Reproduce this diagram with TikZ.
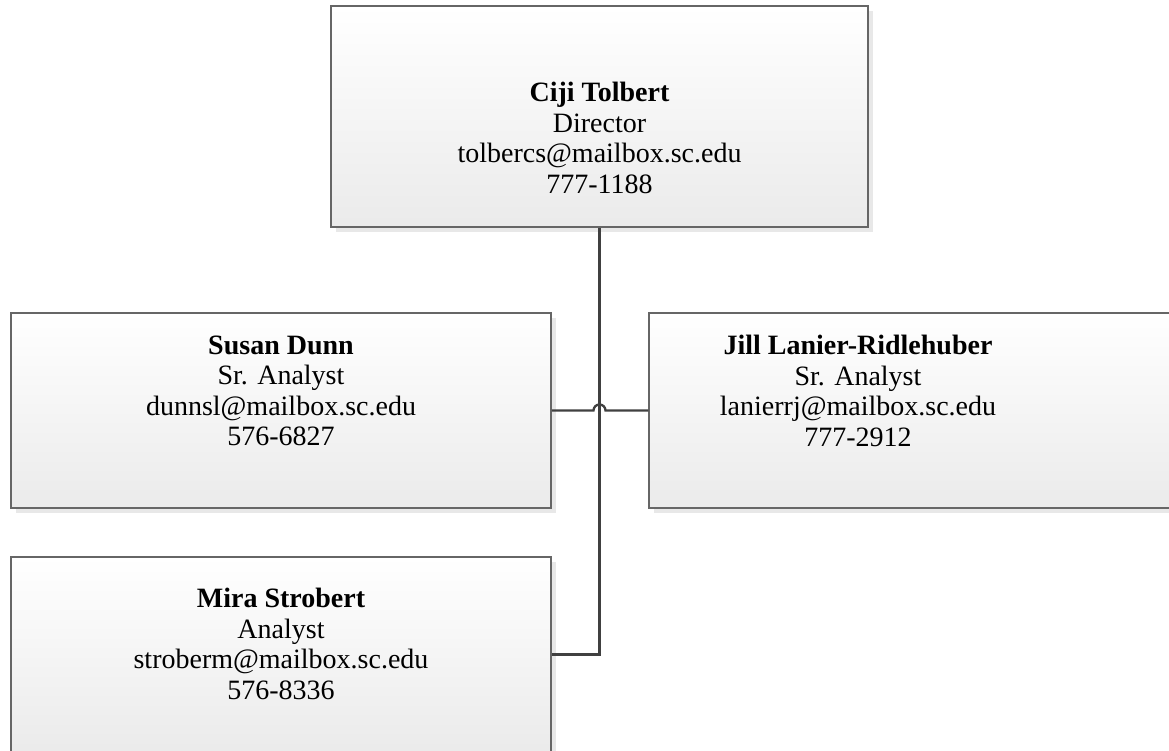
\documentclass[tikz,border=0pt]{standalone}
\usepackage{fontspec}
\setmainfont{Liberation Serif}
\usetikzlibrary{shadows}

\begin{document}
\begin{tikzpicture}[x=1pt,y=-1pt]
  \tikzstyle{person} = [draw=black!60, line width=1.5pt, rectangle,
    top color=white, bottom color=black!8,
    general shadow={fill=black!9, shadow xshift=5pt, shadow yshift=-5pt},
    minimum height=195pt, minimum width=540pt, inner sep=0pt]
  \tikzstyle{info} = [align=center, font=\fontsize{28}{30.5}\selectfont]
  \tikzstyle{conn} = [draw=black!75, line width=2.3pt]
  \useasboundingbox (0,0) rectangle (1169,750);

  % boxes
  \draw (599.5,116.5) node[person, minimum height=221pt, minimum width=537pt] (ciji) {};
  \draw (281,410.5) node[person] (susan) {};
  \draw (919,410.5) node[person] (jill) {};
  \draw (281,654.5) node[person] (mira) {};

  % texts
  \draw (599.5,138) node[info] (cijiTxt) {\textbf{Ciji Tolbert}\\Director\\tolbercs@mailbox.sc.edu\\777-1188};
  \draw (281,391) node[info] (susanTxt) {\textbf{Susan Dunn}\\Sr. Analyst\\dunnsl@mailbox.sc.edu\\576-6827};
  \draw (858,391) node[info] (jillTxt) {\textbf{Jill Lanier-Ridlehuber}\\Sr. Analyst\\lanierrj@mailbox.sc.edu\\777-2912};
  \draw (281,644) node[info] (miraTxt) {\textbf{Mira Strobert}\\Analyst\\stroberm@mailbox.sc.edu\\576-8336};

  % connectors
  \coordinate (hop) at (ciji.south |- susan.east);
  \draw [conn] (ciji.south) |- (mira.east);
  \draw [conn] (susan.east) -- ([xshift=-6pt]hop) arc[start angle=180, end angle=0, radius=6pt] -- (jill.west);
\end{tikzpicture}
\end{document}
